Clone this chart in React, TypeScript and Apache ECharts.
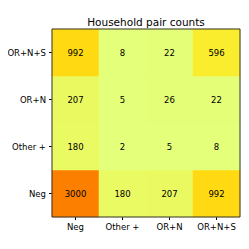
import React, { useEffect, useRef } from "react";
import * as echarts from "echarts";

const titleText = "Household pair counts";
const xCategories = ["Neg", "Other +", "OR+N", "OR+N+S"];
const yCategories = ["Neg", "Other +", "OR+N", "OR+N+S"];
// rows listed bottom (Neg) to top (OR+N+S), columns follow xCategories
const rowNeg = [3000, 180, 207, 992];
const rowOther = [180, 2, 5, 8];
const rowORN = [207, 5, 26, 22];
const rowORNS = [992, 8, 22, 596];
const wistia = ["#e4ff7a", "#ffe81a", "#ffbd00", "#ffa000", "#fc7f00"];

export default function App() {
  const ref = useRef<HTMLDivElement>(null);
  useEffect(() => {
    if (!ref.current) return;
    const chart = echarts.init(ref.current, undefined, { renderer: "svg" });
    const rows = [rowNeg, rowOther, rowORN, rowORNS];
    const data: [number, number, number][] = [];
    rows.forEach((r, yi) => r.forEach((v, xi) => data.push([xi, yi, v])));
    const all = data.map((d) => d[2]);
    const font = "DejaVu Sans";
    chart.setOption({
      animation: false,
      backgroundColor: "#ffffff",
      graphic: [
        {
          type: "text",
          x: 146,
          y: 21.5,
          style: {
            text: titleText,
            fontFamily: font,
            fontSize: 10.5,
            fill: "#000",
            textAlign: "center",
            textVerticalAlign: "middle",
          },
        },
      ],
      grid: {
        left: 52,
        right: 9,
        top: 29,
        bottom: 32,
        show: true,
        borderColor: "#333",
        borderWidth: 1,
        backgroundColor: "transparent",
        z: 10,
      },
      xAxis: {
        type: "category",
        data: xCategories,
        axisLine: { show: false },
        axisTick: { show: true, alignWithLabel: true, length: 3, lineStyle: { color: "#000" } },
        axisLabel: { fontFamily: font, fontSize: 8.5, color: "#000", margin: 5, interval: 0 },
        splitLine: { show: false },
      },
      yAxis: {
        type: "category",
        data: yCategories,
        axisLine: { show: false },
        axisTick: { show: true, alignWithLabel: true, length: 3, lineStyle: { color: "#000" } },
        axisLabel: { fontFamily: font, fontSize: 8.5, color: "#000", margin: 6, interval: 0 },
        splitLine: { show: false },
      },
      visualMap: {
        show: false,
        min: Math.min(...all),
        max: Math.max(...all),
        inRange: { color: wistia },
      },
      series: [
        {
          type: "heatmap",
          data,
          label: {
            show: true,
            fontFamily: font,
            fontSize: 8.5,
            color: "#000",
          },
          itemStyle: { borderWidth: 0 },
        },
      ],
    });
    return () => chart.dispose();
  }, []);
  return <div ref={ref} style={{ width: 249, height: 249, margin: -8 }} />;
}
